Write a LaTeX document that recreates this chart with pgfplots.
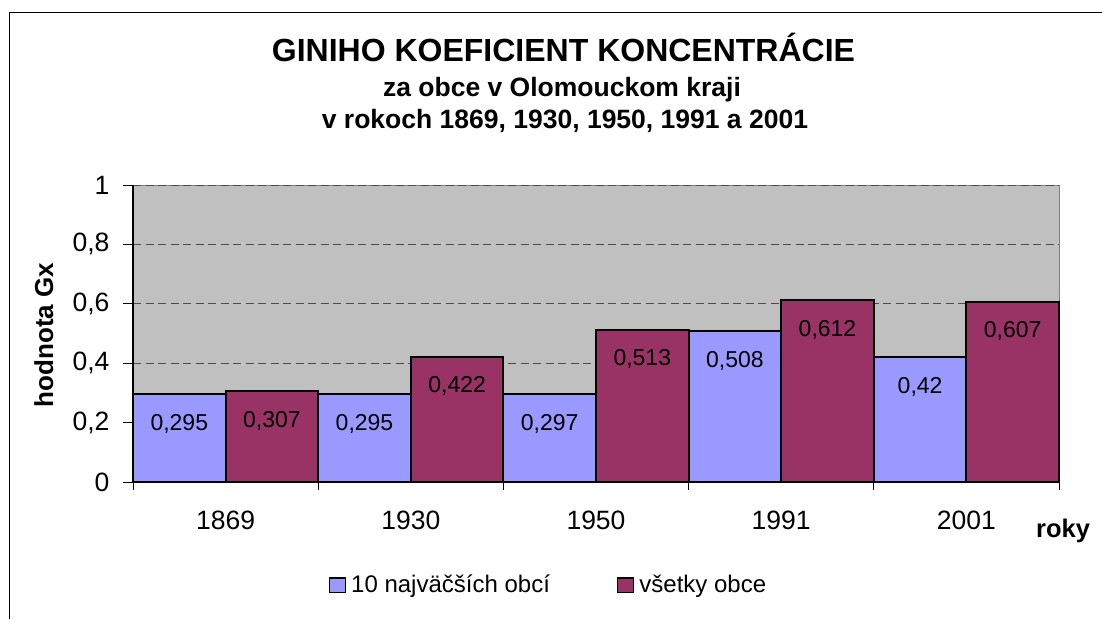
\documentclass[border=0pt]{standalone}
\usepackage{fontspec}
\setmainfont{Liberation Sans}
\usepackage{pgfplots}
\pgfplotsset{compat=1.18}
\definecolor{barblue}{RGB}{153,153,255}
\definecolor{barred}{RGB}{153,51,102}
\definecolor{plotbg}{RGB}{192,192,192}
\pgfplotsset{mylegend/.style={legend image code/.code={\draw[##1, line width=1.5pt] (0pt,-8pt) rectangle (16pt,6.5pt);}}}
\begin{document}
\begin{tikzpicture}
\useasboundingbox (0,0) rectangle (1102pt,619pt);
\draw[line width=1pt] (9pt,0pt) -- (9pt,606pt) -- (1102pt,606pt);
\node[anchor=base, font=\fontsize{32}{36}\selectfont\bfseries] at (563.5pt,557pt) {GINIHO KOEFICIENT KONCENTRÁCIE};
\node[anchor=base, font=\fontsize{26.5}{30}\selectfont\bfseries] at (562pt,522pt) {za obce v Olomouckom kraji};
\node[anchor=base, font=\fontsize{26.5}{30}\selectfont\bfseries] at (565pt,490pt) {v rokoch 1869, 1930, 1950, 1991 a 2001};
\node[anchor=base, rotate=90, font=\fontsize{26}{30}\selectfont\bfseries] at (53pt,284pt) {hodnota Gx};
\node[anchor=base west, inner sep=0pt, font=\fontsize{25.5}{30}\selectfont\bfseries] at (1036pt,82pt) {roky};
\begin{axis}[
  at={(133pt,137pt)}, anchor=south west,
  scale only axis, width=926pt, height=297pt,
  xmin=-0.5, xmax=4.5, ymin=0, ymax=1,
  ybar, bar width=0.5,
  clip=false,
  /pgf/number format/assume math mode=true,
  axis background/.style={fill=plotbg, draw=black!50, line width=1pt},
  axis x line*=bottom, axis y line*=left,
  axis line style={black, line width=1.2pt, -},
  tick align=outside,
  xtick={0,1,2,3,4},
  xticklabels={1869,1930,1950,1991,2001},
  minor xtick={-0.5,0.5,1.5,2.5,3.5,4.5},
  major x tick style={draw=none},
  minor tick length=8pt,
  major tick length=10pt,
  tick style={black, line width=1pt},
  ytick={0,0.2,0.4,0.6,0.8,1},
  yticklabels={0,{0,2},{0,4},{0,6},{0,8},1},
  ymajorgrids,
  grid style={dash pattern=on 8pt off 4.5pt, line width=1pt, black!70},
  ticklabel style={font=\fontsize{26.5}{30}\selectfont},
  xticklabel style={yshift=-15pt},
  yticklabel style={xshift=-10pt},
  nodes near coords,
  nodes near coords style={anchor=center, yshift=-29.7pt, font=\fontsize{23}{27}\selectfont, /pgf/number format/.cd, use comma, fixed, precision=3},
  legend columns=2,
  legend style={at={(0.2111,-0.3451)}, anchor=west, draw=none, fill=none, inner sep=0pt,
    font=\fontsize{24}{28}\selectfont, nodes={inner sep=5pt},
    /tikz/every even column/.append style={column sep=62pt}},
]
\addplot[fill=barblue, draw=black, line width=2pt, bar shift=-0.25, mylegend]
  coordinates {(0,0.295) (1,0.295) (2,0.297) (3,0.508) (4,0.42)};
\addplot[fill=barred, draw=black, line width=2pt, bar shift=0.25, mylegend]
  coordinates {(0,0.307) (1,0.422) (2,0.513) (3,0.612) (4,0.607)};
\legend{10 najväčších obcí, všetky obce}
\end{axis}
\end{tikzpicture}
\end{document}
